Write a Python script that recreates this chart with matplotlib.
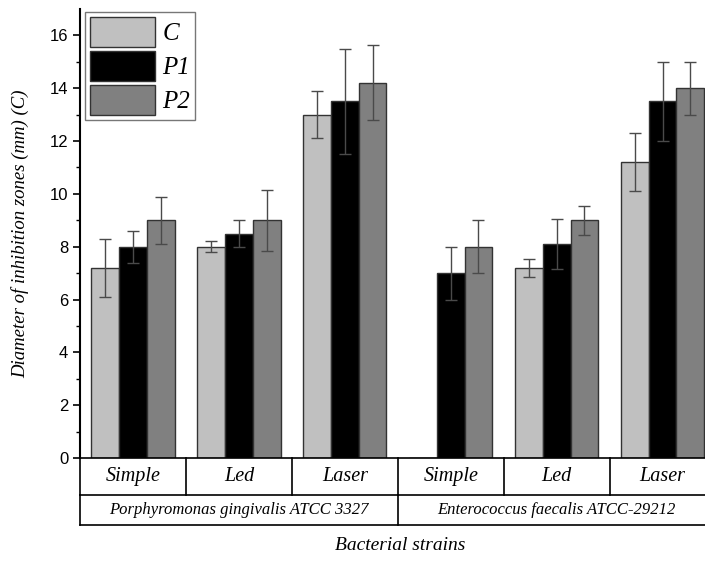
import numpy as np
import matplotlib.pyplot as plt
from matplotlib.patches import Patch
import matplotlib.transforms as mtransforms

# data
treatments = ['Simple', 'Led', 'Laser', 'Simple', 'Led', 'Laser']
strains = ['Porphyromonas gingivalis ATCC 3327', 'Enterococcus faecalis ATCC-29212']
series_names = ['C', 'P1', 'P2']
c_vals = [7.2, 8.0, 13.0, 0.0, 7.2, 11.2]
c_err = [1.1, 0.2, 0.9, 0.0, 0.35, 1.1]
p1_vals = [8.0, 8.5, 13.5, 7.0, 8.1, 13.5]
p1_err = [0.6, 0.5, 2.0, 1.0, 0.95, 1.5]
p2_vals = [9.0, 9.0, 14.2, 8.0, 9.0, 14.0]
p2_err = [0.88, 1.15, 1.42, 1.0, 0.55, 1.0]

colors = ['#c0c0c0', '#000000', '#808080']
serif = 'Liberation Serif'
sans = 'Liberation Sans'

W, H = 705, 568
fig = plt.figure(figsize=(W / 100, H / 100), dpi=100)
ax_left, ax_right, ax_top, ax_bot = 80, 715.5, 9, 458
ax = fig.add_axes([ax_left / W, 1 - ax_bot / H, (ax_right - ax_left) / W, (ax_bot - ax_top) / H])

x = np.arange(len(treatments))
width = 0.262
for i, (vals, errs) in enumerate([(c_vals, c_err), (p1_vals, p1_err), (p2_vals, p2_err)]):
    pos = x + (i - 1) * width
    ax.bar(pos, vals, width, color=colors[i], edgecolor='#333333', linewidth=1.0,
           label=series_names[i], zorder=2)
    vals_a = np.array(vals)
    errs_a = np.array(errs)
    mask = vals_a > 0
    ax.errorbar(pos[mask], vals_a[mask], yerr=errs_a[mask], fmt='none',
                ecolor='#4a4a4a', elinewidth=1.0, capsize=4, capthick=1.0, zorder=3)

ax.set_xlim(-0.5, 5.5)
ax.set_ylim(0, 17)
ax.set_yticks(np.arange(0, 17, 2))
ax.set_yticks(np.arange(1, 17, 2), minor=True)
ax.tick_params(axis='y', which='major', direction='out', length=5, width=1.2, labelsize=12)
ax.tick_params(axis='y', which='minor', direction='out', length=3, width=1.0)
for lab in ax.get_yticklabels():
    lab.set_fontfamily(sans)
ax.set_xticks([])
ax.spines['top'].set_visible(False)
ax.spines['right'].set_visible(False)
ax.spines['left'].set_linewidth(1.5)
ax.spines['bottom'].set_linewidth(1.2)

ax.set_ylabel('Diameter of inhibition zones (mm) (C)', fontfamily=serif,
              fontstyle='italic', fontsize=13.5)
ax.yaxis.set_label_coords(-51 / (ax_right - ax_left), 0.5)

# category table under the axis
trans = mtransforms.blended_transform_factory(ax.transData, ax.transAxes)
ax_h = ax_bot - ax_top
row1 = -(495 - ax_bot) / ax_h
row2 = -(525 - ax_bot) / ax_h
lkw = dict(color='black', linewidth=1.2, transform=trans, clip_on=False)
ax.plot([-0.5, 5.5], [row1, row1], **lkw)
ax.plot([-0.5, 5.5], [row2, row2], **lkw)
for b in np.arange(-0.5, 6, 1):
    ax.plot([b, b], [0, row1], **lkw)
for b in [-0.5, 2.5, 5.5]:
    ax.plot([b, b], [row1, row2], **lkw)
for xi, t in zip(x, treatments):
    ax.text(xi, row1 / 2, t, transform=trans, ha='center', va='center',
            fontfamily=serif, fontstyle='italic', fontsize=14.5)
for gi, s in enumerate(strains):
    ax.text(gi * 3 + 1, (row1 + row2) / 2, s, transform=trans, ha='center', va='center',
            fontfamily=serif, fontstyle='italic', fontsize=12)

fig.text((ax_left + 3 * 105.5 + 4) / W, 1 - 546 / H, 'Bacterial strains', ha='center',
         va='center', fontfamily=serif, fontstyle='italic', fontsize=14)

handles = [Patch(facecolor=colors[i], edgecolor='#333333', linewidth=1.0) for i in range(3)]
leg = ax.legend(handles, series_names, loc='upper left',
                bbox_to_anchor=(85 / W, 1 - 12 / H), bbox_transform=fig.transFigure,
                prop={'family': serif, 'style': 'italic', 'size': 18},
                handlelength=2.6, handleheight=1.45, handletextpad=0.3,
                labelspacing=0.18, borderpad=0.2, borderaxespad=0,
                fancybox=False, framealpha=1, edgecolor='#777777')
leg.get_frame().set_linewidth(1.0)

fig.savefig('out.png', dpi=100)
